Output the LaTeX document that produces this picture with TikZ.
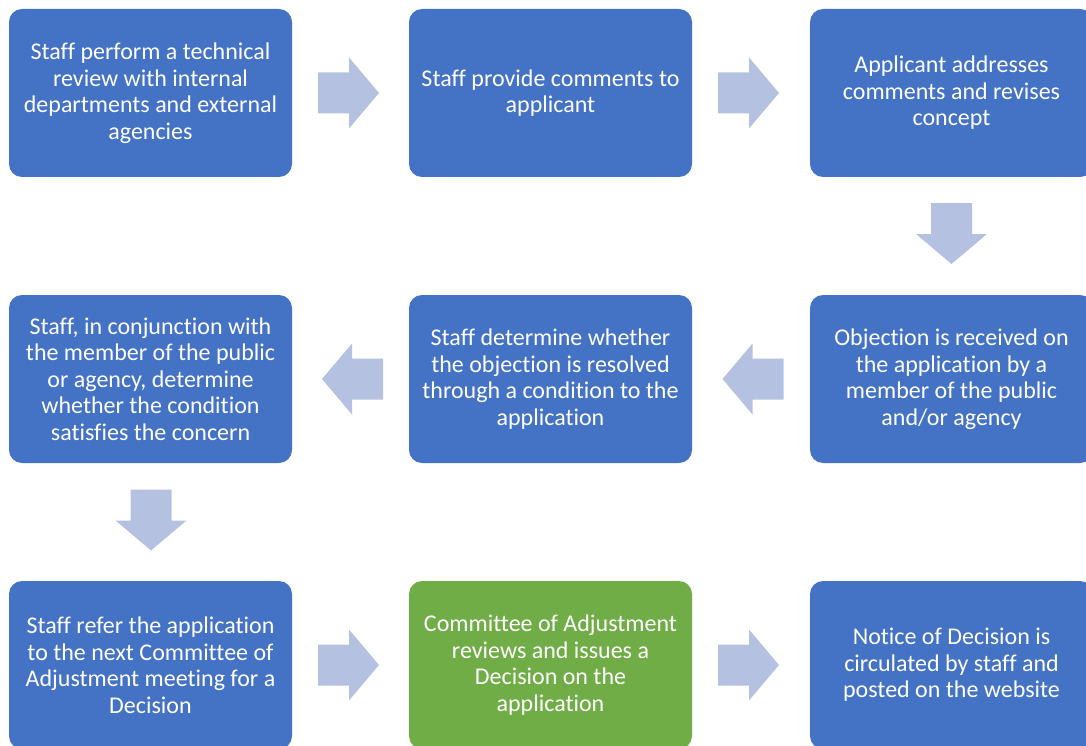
\documentclass[tikz,border=0pt]{standalone}
\usepackage{fontspec}
\setmainfont{Carlito}[Ligatures=NoCommon]
\definecolor{boxblue}{HTML}{4472C4}
\definecolor{boxgreen}{HTML}{70AD47}
\definecolor{arrowfill}{HTML}{B4C1E1}
\begin{document}
\begin{tikzpicture}[x=1pt,y=-1pt,
  stepbox/.style={draw=none, fill=boxblue, rounded corners=13pt, minimum width=283pt, minimum height=168pt,
    inner sep=0pt, text=white, align=center, font=\fontsize{24}{26.5}\selectfont},
  greenbox/.style={stepbox, fill=boxgreen},
  pics/blockarrow/.style={code={
    \fill[arrowfill] (-30.5,-20.5) -- (0.5,-20.5) -- (0.5,-35.5) -- (30.5,0) -- (0.5,35.5) -- (0.5,20.5) -- (-30.5,20.5) -- cycle;}}
]
\useasboundingbox (0,0) rectangle (1086,746);
% row 1
\node[stepbox] (a) at (150.5,93) {Staff perform a technical\\review with internal\\departments and external\\agencies};
\node[stepbox] (b) at (550.5,93) {Staff provide comments to\\applicant};
\node[stepbox] (c) at (951.5,93) {Applicant addresses\\comments and revises\\concept};
% row 2
\node[stepbox] (d) at (951.5,379) {Objection is received on\\the application by a\\member of the public\\and/or agency};
\node[stepbox] (e) at (550.5,379) {Staff determine whether\\the objection is resolved\\through a condition to the\\application};
\node[stepbox] (f) at (150.5,379) {Staff, in conjunction with\\the member of the public\\or agency, determine\\whether the condition\\satisfies the concern};
% row 3
\node[stepbox] (g) at (150.5,665) {Staff refer the application\\to the next Committee of\\Adjustment meeting for a\\Decision};
\node[greenbox] (h) at (550.5,665) {Committee of Adjustment\\reviews and issues a\\Decision on the\\application};
\node[stepbox] (i) at (951.5,665) {Notice of Decision is\\circulated by staff and\\posted on the website};
% connectors (block arrows)
\coordinate (ab) at (348.5,93);
\coordinate (bc) at (748.5,93);
\coordinate (cd) at (951.5,233.5);
\coordinate (de) at (753,379);
\coordinate (ef) at (352.5,379);
\coordinate (fg) at (151,520);
\coordinate (gh) at (348.5,665);
\coordinate (hi) at (748.5,665);
\pic at (ab) {blockarrow};
\pic at (bc) {blockarrow};
\pic[rotate=-90] at (cd) {blockarrow};
\pic[rotate=180] at (de) {blockarrow};
\pic[rotate=180] at (ef) {blockarrow};
\pic[rotate=-90] at (fg) {blockarrow};
\pic at (gh) {blockarrow};
\pic at (hi) {blockarrow};
\end{tikzpicture}
\end{document}
